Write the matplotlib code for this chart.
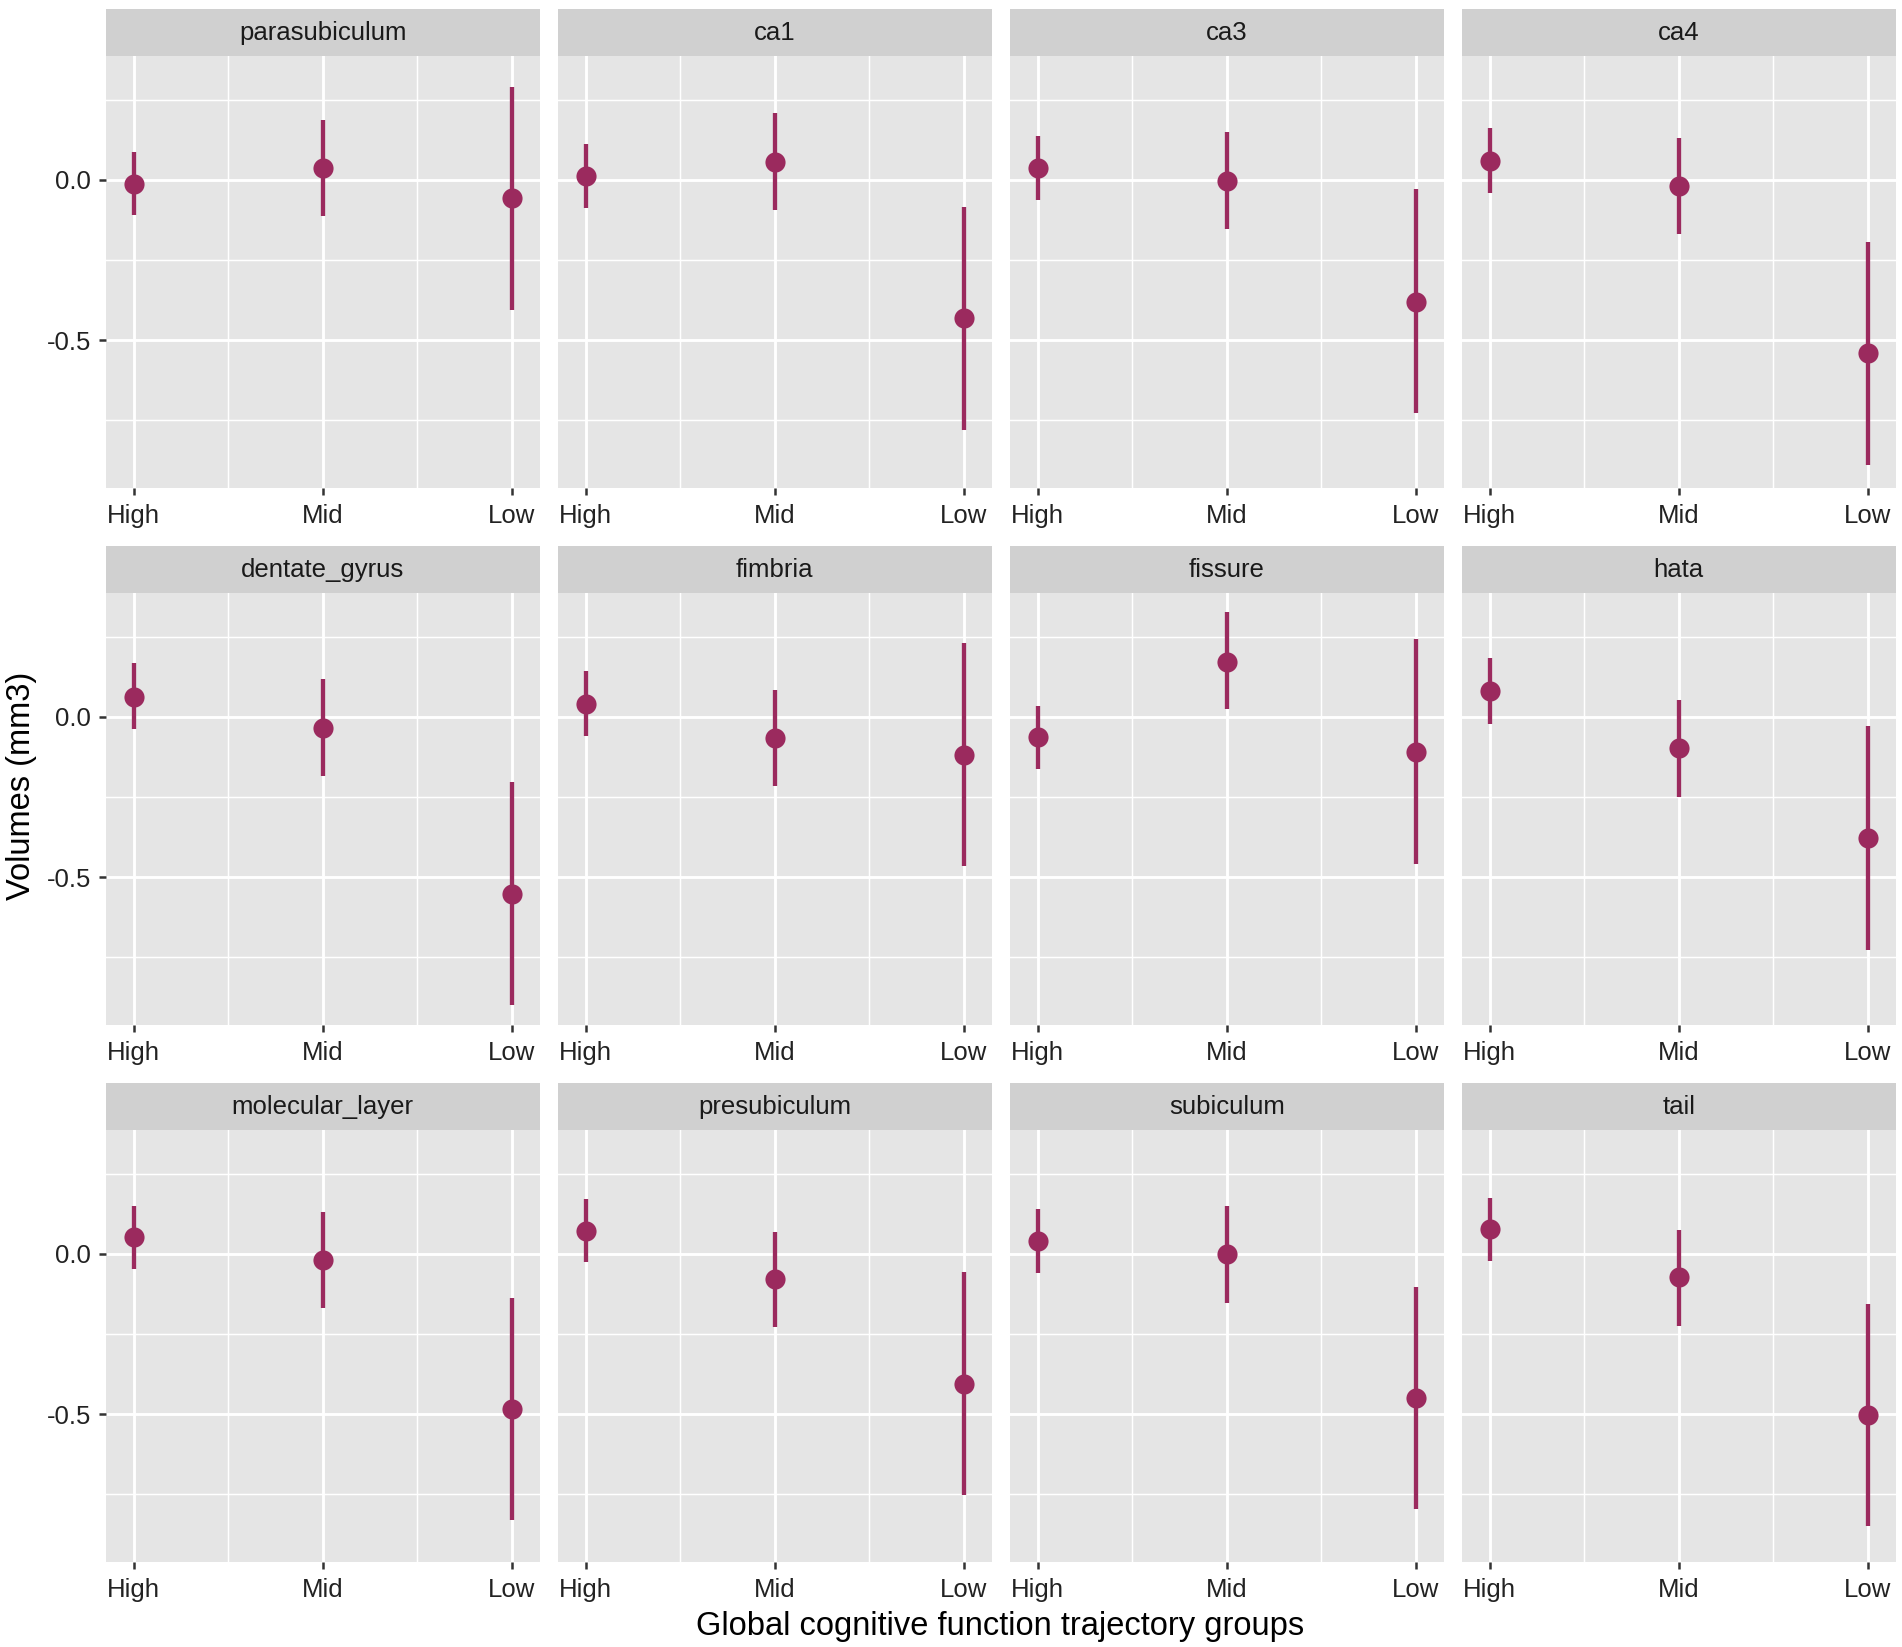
import matplotlib
matplotlib.use("Agg")
import matplotlib.pyplot as plt
from matplotlib.ticker import FixedLocator

plt.rcParams['font.family'] = ['Liberation Sans', 'DejaVu Sans']

regions = ["parasubiculum", "ca1", "ca3", "ca4",
           "dentate_gyrus", "fimbria", "fissure", "hata",
           "molecular_layer", "presubiculum", "subiculum", "tail"]
groups = ["High", "Mid", "Low"]

# estimates per region: [High, Mid, Low]
estimate = [
    [-0.012, 0.037, -0.057],
    [0.011, 0.055, -0.430],
    [0.036, -0.004, -0.380],
    [0.058, -0.020, -0.540],
    [0.063, -0.034, -0.553],
    [0.040, -0.066, -0.118],
    [-0.064, 0.170, -0.110],
    [0.080, -0.098, -0.379],
    [0.053, -0.019, -0.485],
    [0.071, -0.079, -0.406],
    [0.041, 0.000, -0.451],
    [0.077, -0.074, -0.502],
]
lower = [
    [-0.111, -0.114, -0.406],
    [-0.087, -0.095, -0.780],
    [-0.062, -0.155, -0.727],
    [-0.042, -0.170, -0.890],
    [-0.038, -0.186, -0.900],
    [-0.059, -0.217, -0.464],
    [-0.163, 0.023, -0.458],
    [-0.023, -0.250, -0.727],
    [-0.049, -0.170, -0.830],
    [-0.026, -0.230, -0.752],
    [-0.060, -0.154, -0.797],
    [-0.024, -0.226, -0.850],
]
upper = [
    [0.087, 0.187, 0.288],
    [0.110, 0.207, -0.085],
    [0.136, 0.148, -0.030],
    [0.160, 0.130, -0.193],
    [0.167, 0.117, -0.205],
    [0.141, 0.084, 0.230],
    [0.034, 0.326, 0.242],
    [0.182, 0.053, -0.030],
    [0.150, 0.130, -0.139],
    [0.170, 0.068, -0.056],
    [0.139, 0.150, -0.105],
    [0.174, 0.074, -0.156],
]
y_major = [-0.5, 0.0]
y_minor = [-0.75, -0.25, 0.25]

W, H = 1902, 1647
fig = plt.figure(figsize=(W / 100, H / 100), dpi=100)
fig.patch.set_facecolor("white")

point_color = "#9B2A5E"
panel_bg = "#E5E5E5"
strip_bg = "#D0D0D0"
tick_col = "#333333"
label_col = "#222222"

# shared y limits (5% expansion of data range)
ymin = min(min(r) for r in lower)
ymax = max(max(r) for r in upper)
pad = 0.05 * (ymax - ymin)
ylim = (ymin - pad, ymax + pad)
xpos = [1, 2, 3]
xlim = (0.85, 3.15)

left0, col_pitch, pw = 105.5, 452.0, 434.5
top0, row_pitch, sh, ph = 8.5, 537.0, 47.0, 432.5

for i, name in enumerate(regions):
    r, c = divmod(i, 4)
    left = left0 + c * col_pitch
    stop = top0 + r * row_pitch
    ptop = stop + sh
    ax = fig.add_axes([left / W, 1 - (ptop + ph) / H, pw / W, ph / H])
    sax = fig.add_axes([left / W, 1 - ptop / H, pw / W, sh / H])
    sax.set_facecolor(strip_bg)
    sax.set_xticks([]); sax.set_yticks([])
    for s in sax.spines.values():
        s.set_visible(False)
    sax.text(0.5, 0.47, name, ha="center", va="center", fontsize=18.5,
             color="#1A1A1A", transform=sax.transAxes)

    ax.set_facecolor(panel_bg)
    for s in ax.spines.values():
        s.set_visible(False)
    ax.set_xlim(*xlim)
    ax.set_ylim(*ylim)
    ax.xaxis.set_major_locator(FixedLocator(xpos))
    ax.xaxis.set_minor_locator(FixedLocator([1.5, 2.5]))
    ax.yaxis.set_major_locator(FixedLocator(y_major))
    ax.yaxis.set_minor_locator(FixedLocator(y_minor))
    ax.set_xticklabels(groups)
    ax.grid(which="major", color="white", linewidth=2.1, zorder=0)
    ax.grid(which="minor", color="white", linewidth=1.05, zorder=0)
    ax.set_axisbelow(True)
    ax.tick_params(which="major", length=5, width=1.8, color=tick_col,
                   labelsize=18.5, labelcolor=label_col)
    ax.tick_params(axis="x", which="major", pad=6.5)
    ax.tick_params(axis="y", which="major", pad=5.5)
    ax.tick_params(which="minor", length=0)
    if c == 0:
        ax.set_yticklabels(["-0.5", "0.0"])
    else:
        ax.tick_params(axis="y", which="major", length=0, labelleft=False)

    est = estimate[i]
    lo = lower[i]
    hi = upper[i]
    ax.vlines(xpos, lo, hi, color=point_color, linewidth=3.1, zorder=3)
    ax.plot(xpos, est, "o", color=point_color, markersize=14.5,
            markeredgewidth=0, zorder=4)

fig.text(22 / W, 1 - 786 / H, "Volumes (mm3)", rotation=90, ha="center",
         va="center", fontsize=23.5, color="black")
fig.text(1000 / W, 1 - 1626 / H, "Global cognitive function trajectory groups",
         ha="center", va="center", fontsize=23.5, color="black")

fig.savefig("out.png", dpi=100, facecolor="white")
